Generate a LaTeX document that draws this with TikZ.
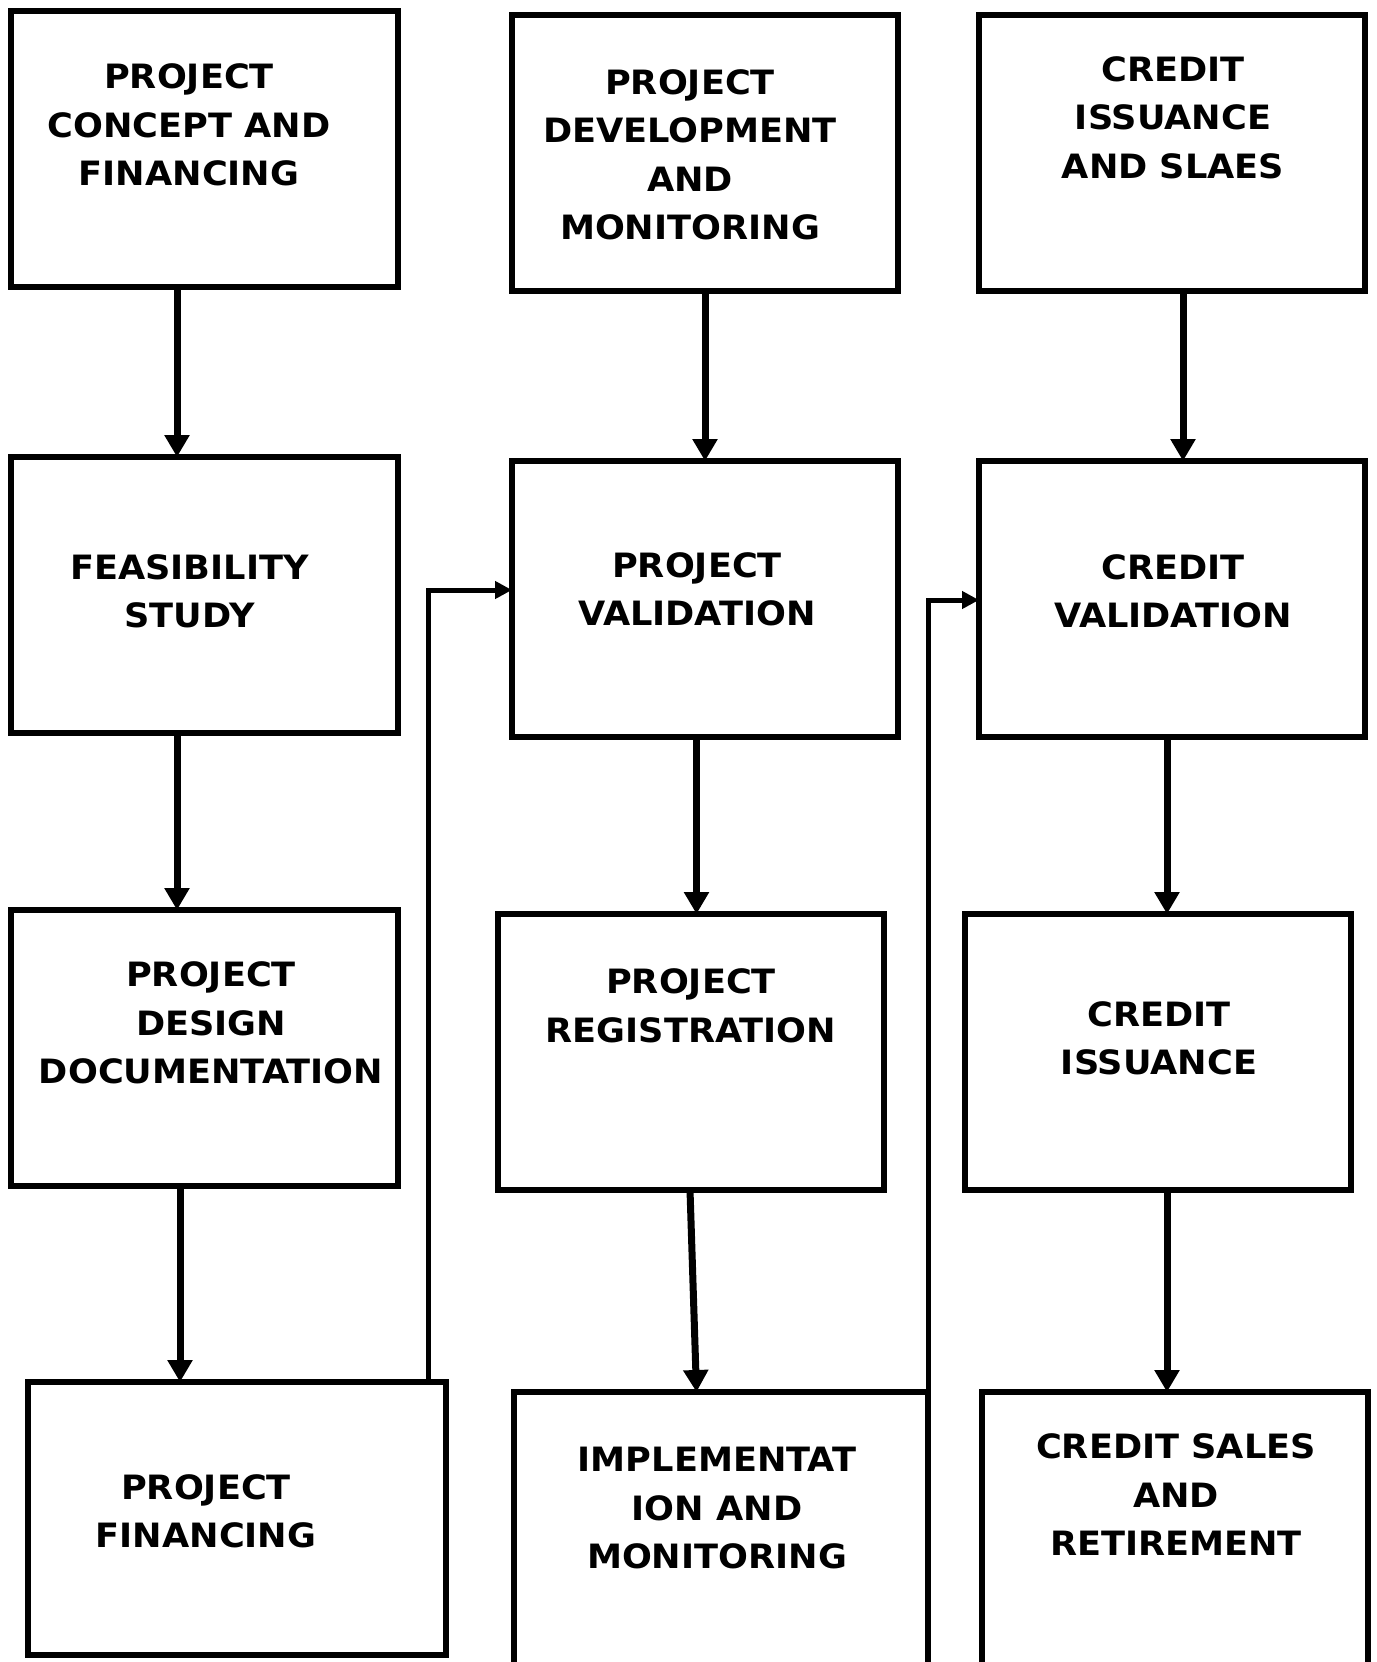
\documentclass[tikz,border=0pt]{standalone}
\usepackage{fontspec}
\setmainfont[FakeStretch=1.05]{DejaVu Sans}
\usetikzlibrary{arrows.meta}
\begin{document}
\begin{tikzpicture}[x=1pt,y=-1pt,
 box/.style={draw, line width=5.5pt, rectangle, inner sep=0pt, outer sep=0pt, anchor=north west},
 lbl/.style={align=center, inner sep=0pt, text depth=0pt, font=\fontsize{33.5}{48.5}\selectfont\bfseries},
 arr/.style={line width=7pt, -{Triangle[width=24pt,length=22pt]}},
 link/.style={line width=5pt, -{Triangle[width=17pt,length=17pt]}}]
\clip (0,0) rectangle (1376,1662);
\fill[white] (0,0) rectangle (1376,1662);
% boxes
\node[box, minimum width=387pt, minimum height=276pt] (b1) at (11,11) {};
\node[box, minimum width=387pt, minimum height=276pt] (b2) at (11,457) {};
\node[box, minimum width=387pt, minimum height=276pt] (b3) at (11,910) {};
\node[box, minimum width=418pt, minimum height=273pt] (b4) at (28,1382) {};
\node[box, minimum width=386pt, minimum height=276pt] (c1) at (512,15) {};
\node[box, minimum width=386pt, minimum height=276pt] (c2) at (512,461) {};
\node[box, minimum width=386pt, minimum height=276pt] (c3) at (498,914) {};
\node[box, minimum width=414pt, minimum height=320pt] (c4) at (514,1392) {};
\node[box, minimum width=386pt, minimum height=276pt] (d1) at (979,15) {};
\node[box, minimum width=386pt, minimum height=276pt] (d2) at (979,461) {};
\node[box, minimum width=386pt, minimum height=276pt] (d3) at (965,914) {};
\node[box, minimum width=386pt, minimum height=320pt] (d4) at (982,1392) {};
% labels
\node[lbl] (t1) at (189,125) {PROJECT\\CONCEPT AND\\FINANCING};
\node[lbl] (t2) at (189.5,591) {FEASIBILITY\\STUDY};
\node[lbl] (t3) at (211,1023) {PROJECT\\DESIGN\\DOCUMENTATION};
\node[lbl] (t4) at (206,1511) {PROJECT\\FINANCING};
\node[lbl] (t5) at (690,154.5) {PROJECT\\DEVELOPMENT\\AND\\MONITORING};
\node[lbl] (t6) at (697,589) {PROJECT\\VALIDATION};
\node[lbl] (t7) at (691,1005.5) {PROJECT\\REGISTRATION};
\node[lbl] (t8) at (717,1508) {IMPLEMENTAT\\ION AND\\MONITORING};
\node[lbl] (t9) at (1173,117.5) {CREDIT\\ISSUANCE\\AND SLAES};
\node[lbl] (t10) at (1173,591) {CREDIT\\VALIDATION};
\node[lbl] (t11) at (1159,1038) {CREDIT\\ISSUANCE};
\node[lbl] (t12) at (1176,1495) {CREDIT SALES\\AND\\RETIREMENT};
% arrows
\draw[arr] (177,0 |- b1.south) -- (177,0 |- b2.north);
\draw[arr] (177,0 |- b2.south) -- (177,0 |- b3.north);
\draw[arr] (180,0 |- b3.south) -- (180,0 |- b4.north);
\draw[arr] (705,0 |- c1.south) -- (705,0 |- c2.north);
\draw[arr] (696.5,0 |- c2.south) -- (696.5,0 |- c3.north);
\draw[arr] (690,0 |- c3.south) -- (696.5,0 |- c4.north);
\draw[arr] (1183,0 |- d1.south) -- (1183,0 |- d2.north);
\draw[arr] (1167,0 |- d2.south) -- (1167,0 |- d3.north);
\draw[arr] (1167,0 |- d3.south) -- (1167,0 |- d4.north);
\draw[link] (428,0 |- b4.north) |- (c2.west |- 0,590);
\draw[link] (c4.north east) |- (d2.west |- 0,600);
\end{tikzpicture}
\end{document}
